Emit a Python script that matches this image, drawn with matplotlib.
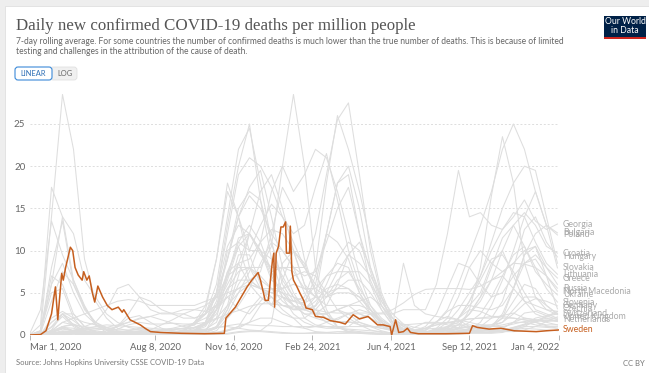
import matplotlib
matplotlib.use("Agg")
import matplotlib.pyplot as plt
import matplotlib.transforms as mtransforms
from matplotlib.patches import Rectangle, FancyBboxPatch
import pandas as pd

plt.rcParams["font.family"] = ["Lato", "DejaVu Sans"]

# ----------------------------------------------------------------------
# Data: 7-day rolling daily deaths per million
# grey countries sampled every 14 days from Mar 1, 2020
# ----------------------------------------------------------------------
dates = pd.date_range("2020-03-01", periods=49, freq="14D")

belgium = [0, 0.4, 14, 28.5, 22, 9, 4, 2, 0.8, 0.5,
           0.4, 0.5, 0.6, 0.7, 0.8, 1.2, 3, 9, 18, 14,
           8, 6.5, 5.5, 5, 4.5, 3.5, 2.5, 2.5, 3, 3.5,
           3.5, 3, 1.5, 0.7, 0.5, 0.3, 0.3, 0.5, 0.6, 0.8,
           1, 1.2, 1.2, 1.5, 3, 4.5, 4.5, 3.5, 2.5]
spain = [0, 1.2, 17.5, 14, 6.5, 3.5, 1.2, 0.3, 0.2, 0.2,
         0.3, 0.6, 1.2, 1.8, 2.5, 3, 2.8, 3.5, 7.5, 8.5,
         6, 4.5, 3.5, 6.5, 10, 8.5, 5, 2.5, 1.5, 1.5,
         1.5, 1.1, 0.8, 0.6, 0.4, 0.3, 0.6, 1.6, 2.2, 1.8,
         1, 0.7, 0.5, 0.4, 0.4, 0.6, 1, 1.6, 1.8]
italy = [0.1, 3, 13.5, 9.5, 6.5, 3.2, 1.5, 0.9, 0.5, 0.3,
         0.2, 0.1, 0.1, 0.1, 0.2, 0.3, 0.5, 2, 7, 11.5,
         12, 9.5, 8, 8, 7.5, 5.5, 5.5, 7, 7.5, 7.5,
         5.5, 3.5, 2, 1, 0.5, 0.3, 0.3, 0.6, 0.8, 0.9,
         0.9, 0.8, 0.7, 0.6, 0.8, 1.2, 1.5, 2.2, 2.8]
uk = [0, 0.5, 6, 14, 12, 6.5, 4.5, 2.5, 1.5, 0.9,
      0.6, 0.2, 0.2, 0.1, 0.2, 0.5, 1.2, 3, 5.5, 6.5,
      6.5, 7.5, 12, 17.5, 15, 9, 5, 2.5, 0.9, 0.4,
      0.2, 0.1, 0.1, 0.1, 0.2, 0.4, 0.8, 1.2, 1.4, 1.6,
      1.9, 2, 2, 2.3, 2.6, 2, 1.8, 1.6, 2.15]
france = [0, 0.3, 8, 13.5, 6, 3.3, 1.2, 0.6, 0.3, 0.2,
          0.2, 0.2, 0.2, 0.3, 0.6, 0.9, 1.3, 3, 7.5, 10.5,
          6.5, 5.5, 5.5, 5.5, 6, 5.5, 4.5, 4.5, 5.5, 5.5,
          4.5, 3, 1.8, 0.9, 0.5, 0.4, 0.8, 1.2, 1.5, 1.3,
          0.8, 0.6, 0.4, 0.5, 0.6, 1, 1.7, 2.2, 2.5]
netherlands = [0, 0.2, 6, 8.5, 5, 2.5, 1.3, 0.6, 0.3, 0.2,
               0.1, 0.1, 0.2, 0.2, 0.3, 0.6, 1.5, 3.5, 4.5, 3,
               2.5, 4, 5.5, 5, 3.5, 2.5, 2, 1.6, 1.6, 1.6,
               1.2, 1, 0.8, 0.5, 0.3, 0.1, 0.3, 0.7, 0.8, 0.6,
               0.5, 0.5, 0.6, 0.8, 1.5, 2.6, 2.8, 2.3, 1.8]
ireland = [0, 0.2, 4, 7.5, 6, 3, 1.5, 0.7, 0.3, 0.2,
           0.1, 0.1, 0.1, 0.2, 0.3, 0.5, 0.6, 0.9, 1, 0.8,
           0.6, 0.5, 1.5, 8.5, 10, 6, 2.5, 1.5, 0.9, 0.6,
           0.4, 0.3, 0.2, 0.2, 0.2, 0.2, 0.3, 0.5, 1, 1.2,
           1.2, 1, 1, 1, 1.3, 1.6, 1.5, 1.1, 0.8]
switzerland = [0, 0.5, 7, 6, 2.5, 1, 0.3, 0.1, 0.1, 0.1,
               0.1, 0.1, 0.1, 0.1, 0.1, 0.2, 0.4, 3, 10, 11,
               10, 10, 9, 7, 4.5, 2, 1.2, 1, 0.8, 0.7,
               0.6, 0.5, 0.4, 0.2, 0.1, 0.1, 0.1, 0.2, 0.4, 0.8,
               1, 0.7, 0.5, 0.5, 0.9, 1.3, 2, 2.3, 2.6]
czechia = [0, 0, 0.1, 0.2, 0.2, 0.1, 0.1, 0.1, 0, 0,
           0.1, 0.1, 0.1, 0.2, 0.5, 1.5, 3.5, 9, 17, 14,
           10, 13, 15.5, 14, 12, 13, 17.5, 21.5, 16, 10,
           6, 3, 1.2, 0.5, 0.3, 0.2, 0.1, 0.1, 0.1, 0.2,
           0.3, 0.6, 1, 2, 5.5, 9.5, 10.5, 7, 3.1]
hungary = [0, 0, 0.3, 1, 1.3, 0.8, 0.5, 0.3, 0.2, 0.1,
           0.1, 0.1, 0.1, 0.2, 0.5, 1.5, 2.5, 5, 9, 14,
           16.5, 15, 12, 10, 8, 8, 12, 19, 25.5, 27.5,
           19, 10, 4.5, 1.5, 0.6, 0.3, 0.2, 0.2, 0.2, 0.3,
           0.5, 1, 2, 4, 8, 12.5, 14, 11, 9.25]
slovakia = [0, 0, 0, 0.1, 0.1, 0.1, 0, 0, 0, 0,
            0, 0, 0.1, 0.1, 0.2, 0.5, 1.5, 3.5, 6, 8.5,
            9, 11, 17, 20, 17, 19, 22, 21, 17, 12,
            7, 3.5, 1.5, 0.5, 0.2, 0.1, 0.1, 0.1, 0.1, 0.3,
            0.7, 1.5, 3.5, 6.5, 10, 14, 17, 13, 7.95]
bulgaria = [0, 0, 0.1, 0.3, 0.5, 0.6, 0.6, 0.7, 1, 1.5,
            2, 2.2, 1.8, 1.4, 1, 1.2, 2.5, 6, 14, 22,
            24.5, 18, 11, 6.5, 4.5, 4, 6, 12, 18, 20,
            15, 8, 4, 2, 1, 0.6, 0.8, 1.5, 3, 6,
            9.5, 13, 17, 22, 25, 22, 17, 13, 12.1]
poland = [0, 0, 0.1, 0.3, 0.4, 0.4, 0.3, 0.3, 0.3, 0.2,
          0.2, 0.2, 0.3, 0.4, 0.4, 0.5, 1.5, 5, 10.5, 13,
          12, 10, 7.5, 8, 8, 7, 7.5, 11, 15, 17.5,
          12, 7.5, 3.5, 1.5, 0.6, 0.2, 0.1, 0.1, 0.1, 0.2,
          0.3, 0.5, 1, 2.5, 5.5, 9.5, 12, 13, 11.85]
croatia = [0, 0, 0.2, 0.5, 0.4, 0.2, 0.1, 0, 0.2, 0.5,
           0.8, 0.6, 0.5, 0.6, 0.8, 0.9, 1.5, 4, 9, 14,
           17.5, 19.5, 14, 8, 5, 3, 2.5, 3.5, 6, 9.5,
           11, 8, 4.5, 1.5, 0.5, 0.2, 0.2, 0.3, 0.6, 1.2,
           2.5, 4, 6.5, 10, 13, 14.5, 13, 10.5, 9.7]
slovenia = [0, 0.1, 1.5, 2.5, 1.2, 0.4, 0.2, 0.1, 0, 0.1,
            0.1, 0.1, 0.1, 0.1, 0.2, 0.3, 1.5, 5, 12, 19,
            21, 20, 17.5, 14, 11, 8, 5.5, 4.5, 5, 5,
            4.5, 3, 1.5, 0.5, 0.2, 0.1, 0.1, 0.1, 0.3, 0.8,
            1.5, 2.5, 4.5, 7, 9.5, 10.5, 8, 5.5, 3.9]
north_macedonia = [0, 0.1, 1, 2.5, 2.5, 1, 1.5, 3, 5.5, 6,
                   4.5, 3, 2.5, 2.5, 2.5, 2, 2.5, 5, 13, 20,
                   25, 16, 9, 5, 3.5, 3, 4.5, 12, 18, 19,
                   12, 6, 3, 1.2, 0.6, 0.5, 1, 2.5, 5.5, 8.5,
                   8, 6, 4.5, 5, 7, 8.5, 9, 7, 5.2]
bosnia = [0, 0.1, 0.4, 0.8, 0.5, 0.2, 0.1, 0.3, 1, 2.5,
          4.5, 4, 3, 2.5, 2, 2, 2.5, 4.5, 9, 15,
          17, 16, 11, 6, 4, 4.5, 8, 18, 26, 22,
          17, 11, 5, 2, 0.6, 0.3, 0.3, 0.8, 2, 4.5,
          8, 10, 8.5, 7.5, 8.5, 10, 10.5, 8, 6]
portugal = [0, 0, 2, 2.8, 2, 1.5, 1.2, 0.9, 0.6, 0.6,
            0.7, 0.6, 0.3, 0.2, 0.4, 0.8, 1.2, 2.5, 5.5, 7.5,
            8, 8, 10.5, 20, 28.5, 20, 8, 3, 1, 0.4,
            0.3, 0.2, 0.1, 0.2, 0.4, 0.9, 1.5, 1.5, 1.2, 0.8,
            0.6, 0.4, 0.3, 0.5, 0.8, 1.2, 1.6, 1.8, 1.7]
lithuania = [0, 0, 0.2, 0.4, 0.3, 0.2, 0.1, 0.1, 0.1, 0,
             0, 0, 0, 0, 0.1, 0.1, 0.3, 1, 3, 7,
             12, 17, 19, 15, 10, 6, 4.5, 3.5, 3.5, 3.5,
             4, 4.5, 3.5, 2, 1, 0.5, 0.4, 0.6, 1.5, 3,
             5, 7, 10, 12.5, 14.5, 14, 11, 8.5, 7.2]
greece = [0, 0, 0.2, 0.3, 0.2, 0.1, 0.1, 0, 0, 0,
          0, 0.1, 0.2, 0.4, 0.5, 0.6, 0.7, 1.5, 5, 9.5,
          9.5, 6, 3.5, 2.5, 2, 2, 3, 4.5, 6.5, 7.5,
          7.5, 6, 4, 2, 1.2, 0.6, 0.5, 1.5, 2.8, 3.5,
          3.5, 3.2, 3, 3.5, 5.5, 8.5, 9.5, 8, 6.75]
russia = [0, 0, 0, 0.1, 0.5, 0.8, 1, 1.2, 1.1, 1,
          0.9, 0.8, 0.7, 0.7, 0.7, 0.9, 1.3, 1.9, 2.5, 2.9,
          3.4, 3.7, 3.7, 3.5, 3.4, 3.3, 3, 2.7, 2.6, 2.6,
          2.6, 2.6, 2.6, 3, 3.8, 4.8, 5.4, 5.5, 5.5, 5.5,
          5.4, 5.8, 6.5, 7.5, 8.5, 8.4, 8, 7, 5.55]
ukraine = [0, 0, 0, 0.1, 0.2, 0.3, 0.3, 0.3, 0.4, 0.4,
           0.5, 0.5, 0.6, 0.8, 1.1, 1.4, 2, 3, 4.5, 5.5,
           6.5, 5.5, 4.5, 3.5, 3.2, 3, 3.4, 5, 7.5, 9.5,
           8.5, 7, 4.5, 2.5, 1.3, 0.9, 0.7, 0.8, 1, 1.5,
           2.5, 4.5, 8, 11.5, 13, 10.5, 7.5, 6, 4.75]
georgia = [0, 0, 0, 0, 0.1, 0.1, 0, 0, 0, 0,
           0, 0, 0, 0.1, 0.5, 1.5, 2.5, 3.5, 7, 11,
           13, 11, 7.5, 4.5, 2.5, 1.5, 1, 0.8, 0.8, 1,
           2, 2.5, 2.5, 2.5, 3, 3, 3, 6, 12, 19.5,
           14, 14.5, 13, 12.5, 14, 16, 13.5, 12.5, 13.15]
germany = [0, 0, 0.6, 2.5, 1.7, 0.7, 0.4, 0.2, 0.1, 0.1,
           0.1, 0.1, 0.1, 0.1, 0.1, 0.1, 0.2, 0.5, 2, 3.5,
           5.5, 8.5, 11, 10, 8, 5, 3, 2, 1.8, 2.5,
           3, 2.6, 1.7, 1, 0.5, 0.3, 0.2, 0.2, 0.3, 0.5,
           0.7, 0.8, 1, 1.5, 2.5, 3.7, 4.3, 4, 3.45]
austria = [0, 0, 0.9, 2.2, 1, 0.3, 0.1, 0.1, 0.1, 0.1,
           0.1, 0.1, 0.1, 0.1, 0.2, 0.4, 0.5, 1, 3.5, 8.5,
           12, 10, 6.5, 5.5, 3.5, 2.5, 2.5, 2.5, 3, 3.5,
           2.5, 2, 1.2, 0.6, 0.3, 0.2, 0.2, 0.2, 0.2, 0.4,
           0.8, 1, 1.2, 2, 4, 6, 5.5, 3.5, 2.5]
romania = [0, 0, 0.3, 1, 1.2, 1, 0.8, 0.9, 1.2, 1.5,
           1.9, 2.2, 2.6, 2.6, 3, 3, 3.5, 4.5, 7, 8,
           8, 5.5, 4.5, 3.5, 3, 3, 3.5, 6, 9, 11,
           10, 6.5, 3.5, 1.5, 0.8, 0.4, 0.3, 0.2, 0.3, 0.8,
           3, 8, 16.5, 23.5, 18, 8.5, 4.5, 3, 2.4]
latvia = [0, 0, 0, 0.1, 0.2, 0.1, 0.1, 0, 0, 0,
          0, 0, 0, 0, 0, 0, 0.3, 0.8, 2.5, 5,
          7.5, 11, 12.5, 12, 10, 8, 6, 5, 5.5, 6.5,
          6.5, 5, 3, 1.2, 0.5, 0.2, 0.2, 0.3, 0.8, 2,
          4, 7, 11, 15, 18, 20, 19.5, 14, 8.5]
serbia = [0, 0, 0.3, 0.8, 0.5, 0.3, 0.2, 0.5, 1, 2,
          2.3, 1.5, 0.8, 0.5, 0.3, 0.3, 0.3, 0.8, 3, 6,
          8, 7, 5.5, 4, 3, 3, 4, 5.5, 6, 5.5,
          4, 2.5, 1.5, 0.8, 0.3, 0.2, 0.2, 0.3, 0.6, 1.2,
          2.5, 4.5, 6.5, 7, 5.5, 4, 3.5, 3, 2.8]
denmark = [0, 0, 1.5, 2.5, 1.2, 0.5, 0.3, 0.1, 0.1, 0,
           0, 0, 0, 0.1, 0.1, 0.2, 0.2, 0.3, 0.5, 0.8,
           1.5, 3.5, 4.5, 3, 2, 0.8, 0.4, 0.3, 0.2, 0.3,
           0.3, 0.2, 0.2, 0.1, 0.1, 0, 0.1, 0.2, 0.3, 0.3,
           0.3, 0.3, 0.3, 0.6, 0.9, 1.2, 1.6, 2, 2]
norway = [0, 0, 0.3, 0.7, 0.5, 0.2, 0.1, 0.1, 0, 0,
          0, 0, 0, 0, 0, 0, 0.1, 0.1, 0.2, 0.4,
          0.5, 0.5, 0.4, 0.3, 0.2, 0.2, 0.2, 0.2, 0.2, 0.2,
          0.2, 0.2, 0.1, 0.1, 0.1, 0, 0, 0.1, 0.1, 0.1,
          0.2, 0.2, 0.2, 0.3, 0.7, 1, 1, 0.9, 0.8]
finland = [0, 0, 0.2, 0.9, 0.8, 0.4, 0.2, 0.1, 0, 0,
           0, 0, 0, 0, 0, 0, 0, 0.1, 0.1, 0.3,
           0.4, 0.4, 0.3, 0.2, 0.2, 0.2, 0.3, 0.3, 0.4, 0.4,
           0.3, 0.2, 0.1, 0.1, 0.1, 0, 0, 0.1, 0.2, 0.4,
           0.5, 0.4, 0.3, 0.4, 0.6, 0.8, 0.7, 0.6, 0.5]
estonia = [0, 0, 0.5, 1.5, 1.2, 0.5, 0.2, 0, 0, 0,
           0, 0, 0, 0, 0, 0, 0.1, 0.2, 0.5, 1,
           3, 4.5, 3.5, 4.5, 4, 3.5, 7, 12, 11, 9,
           5, 2.5, 1, 0.5, 0.2, 0.1, 0.2, 0.3, 0.8, 2,
           3.5, 5, 8.5, 10, 7, 4, 2.5, 2, 1.6]
belarus = [0, 0, 0, 0.2, 0.6, 0.8, 0.8, 0.6, 0.4, 0.3,
           0.3, 0.3, 0.3, 0.3, 0.4, 0.5, 0.6, 0.9, 1.1, 1.3,
           1.2, 1.1, 1.1, 1, 1, 1, 1, 1, 1, 1,
           1, 1, 1, 1.1, 1.2, 1.3, 1.4, 1.4, 1.5, 1.7,
           1.9, 2, 2.2, 2.2, 2, 1.8, 1.7, 1.7, 1.6]
albania = [0, 0, 0.2, 0.3, 0.2, 0.1, 0.1, 0.3, 0.7, 1.2,
           1.5, 1.3, 1.3, 1.4, 1.3, 1.3, 1.5, 2, 3.5, 5,
           6, 5.5, 5, 5.5, 7, 7.5, 7, 5, 3, 2,
           1.2, 0.6, 0.3, 0.1, 0, 0, 0, 0.2, 0.8, 2,
           3, 2.8, 2.2, 2, 2, 1.8, 1.5, 1.2, 1.2]
moldova = [0, 0, 0.5, 1.5, 2, 2.5, 3, 3.5, 4, 4.2,
           4, 3.5, 3.5, 3.5, 3.5, 3.5, 4, 4.5, 5, 5.5,
           6, 5.5, 5, 4.5, 4, 3.8, 4.5, 7, 8.5, 8,
           5, 3, 1.5, 0.8, 0.4, 0.4, 0.3, 0.4, 1, 2,
           4, 6.5, 9, 9.5, 7.5, 5, 3, 2.5, 2]
luxembourg = [0, 0.5, 5, 5.5, 2, 0.5, 0.2, 0, 0, 0,
              0.3, 0.5, 0.5, 0.5, 0.3, 0.5, 1, 3, 6.5, 10.5,
              12, 10, 7, 4.5, 3.5, 3, 2.5, 2.5, 3, 2.5,
              1.5, 1, 0.5, 0.2, 0.1, 0.1, 0.1, 0.3, 0.5, 0.6,
              0.6, 0.5, 0.5, 0.8, 1.5, 1.5, 1.2, 1, 1]
cyprus = [0, 0, 0.5, 1, 0.5, 0.2, 0, 0, 0, 0,
          0, 0, 0, 0, 0, 0.1, 0.2, 0.3, 0.6, 1,
          1.5, 2, 2, 1.5, 1, 0.8, 1, 1.5, 2, 2.5,
          2.5, 2, 1.2, 1, 8.5, 3.5, 2.5, 2.2, 2, 1.8,
          1.5, 1.2, 1, 1.2, 1.5, 2, 1.8, 1.5, 1.2]

# Sweden, highlighted (irregular dates to keep the reporting jumps)
sweden_dates = ["2020-03-01", "2020-03-15", "2020-03-22", "2020-03-29", "2020-04-03",
                "2020-04-06", "2020-04-11", "2020-04-13", "2020-04-16", "2020-04-22",
                "2020-04-25", "2020-04-28", "2020-05-02", "2020-05-07", "2020-05-09",
                "2020-05-13", "2020-05-16", "2020-05-20", "2020-05-23", "2020-05-27",
                "2020-06-02", "2020-06-08", "2020-06-14", "2020-06-22", "2020-06-27",
                "2020-06-29", "2020-07-07", "2020-07-20", "2020-07-26", "2020-08-02",
                "2020-08-15", "2020-09-10", "2020-10-10", "2020-11-04", "2020-11-06",
                "2020-11-18", "2020-12-03", "2020-12-09", "2020-12-17", "2020-12-20",
                "2020-12-26", "2020-12-30", "2021-01-04", "2021-01-06", "2021-01-07",
                "2021-01-09", "2021-01-12", "2021-01-15", "2021-01-18", "2021-01-21",
                "2021-01-22", "2021-01-26", "2021-01-27", "2021-01-29", "2021-01-31",
                "2021-02-04", "2021-02-08", "2021-02-13", "2021-02-16", "2021-02-24",
                "2021-02-28", "2021-03-10", "2021-03-19", "2021-03-31", "2021-04-07",
                "2021-04-17", "2021-04-25", "2021-05-06", "2021-05-18", "2021-05-25",
                "2021-06-03", "2021-06-05", "2021-06-10", "2021-06-14", "2021-06-20",
                "2021-06-25", "2021-06-29", "2021-07-09", "2021-08-13", "2021-09-12",
                "2021-09-16", "2021-09-22", "2021-10-07", "2021-10-22", "2021-11-08",
                "2021-12-06", "2021-12-19", "2022-01-04"]
sweden = [0, 0.05, 0.5, 2.5, 5.7, 1.8, 7.3, 6.5, 8, 10.4,
          10, 8, 7.1, 6.5, 7.5, 6.5, 7, 5, 3.9, 5.8,
          4.5, 3.5, 3, 3.3, 2.7, 3, 1.8, 1.2, 0.8, 0.4,
          0.3, 0.2, 0.15, 0.2, 2, 3.3, 5.7, 6.5, 7.4, 6.5,
          4.1, 4.1, 8.6, 9.7, 3.3, 9.7, 10.5, 12.8, 12.8, 13.4,
          9.7, 9.7, 12.9, 7.5, 6.5, 5.8, 5, 4.1, 3.2, 3,
          2.2, 2.1, 1.7, 1.5, 1.3, 2.4, 1.9, 2.2, 1.2, 1.2,
          1.0, 0, 1.8, 0.3, 0.4, 0.8, 0.3, 0.15, 0.15, 0.2,
          1.1, 0.9, 0.7, 0.8, 0.5, 0.4, 0.5, 0.6]

grey_series = [belgium, spain, italy, uk, france, netherlands, ireland, switzerland,
               czechia, hungary, slovakia, bulgaria, poland, croatia, slovenia,
               north_macedonia, bosnia, portugal, lithuania, greece, russia, ukraine,
               georgia, germany, austria, romania, latvia, serbia, denmark, norway,
               finland, estonia, belarus, albania, moldova, luxembourg, cyprus]

labelled = [("Georgia", georgia), ("Bulgaria", bulgaria), ("Poland", poland),
            ("Croatia", croatia), ("Hungary", hungary), ("Slovakia", slovakia),
            ("Lithuania", lithuania), ("Greece", greece), ("Russia", russia),
            ("North Macedonia", north_macedonia), ("Ukraine", ukraine),
            ("Slovenia", slovenia), ("Germany", germany), ("Czechia", czechia),
            ("Switzerland", switzerland), ("United Kingdom", uk),
            ("Netherlands", netherlands)]

tick_dates = ["2020-03-01", "2020-08-08", "2020-11-16", "2021-02-24",
              "2021-06-04", "2021-09-12", "2022-01-04"]
tick_labels = ["Mar 1, 2020", "Aug 8, 2020", "Nov 16, 2020", "Feb 24, 2021",
               "Jun 4, 2021", "Sep 12, 2021", "Jan 4, 2022"]

GREY = "#dedede"
ORANGE = "#c65f1f"

# ----------------------------------------------------------------------
# Figure + card background (pixel coordinates on an overlay axes)
# ----------------------------------------------------------------------
W, H = 649, 373
fig = plt.figure(figsize=(W / 100, H / 100), dpi=100)
fig.patch.set_facecolor("#eeeeee")

bg = fig.add_axes([0, 0, 1, 1])
bg.set_xlim(0, W)
bg.set_ylim(H, 0)
bg.axis("off")
bg.add_patch(Rectangle((5, 6), W - 5, H - 6, facecolor="white", edgecolor="#e0e0e0", lw=0.6))

bg.text(16, 30, "Daily new confirmed COVID-19 deaths per million people",
        family="Liberation Serif", fontsize=12.2, color="#555555", va="baseline")
bg.text(16, 43.5, "7-day rolling average. For some countries the number of confirmed deaths is "
        "much lower than the true number of deaths. This is because of limited",
        fontsize=6.15, color="#666666", va="baseline")
bg.text(16, 54.5, "testing and challenges in the attribution of the cause of death.",
        fontsize=6.15, color="#666666", va="baseline")

# LINEAR / LOG toggle
bg.add_patch(FancyBboxPatch((50, 67), 27, 13, boxstyle="round,pad=0,rounding_size=3",
                            facecolor="#f0f0f0", edgecolor="#e0e0e0", lw=0.6))
bg.add_patch(FancyBboxPatch((15, 67), 37, 13, boxstyle="round,pad=0,rounding_size=3",
                            facecolor="white", edgecolor="#3b8ad9", lw=0.8))
bg.text(33.5, 73.8, "LINEAR", fontsize=5.4, color="#2e6fb5", ha="center", va="center")
bg.text(64.5, 73.8, "LOG", fontsize=5.4, color="#666666", ha="center", va="center")

# OWID logo
bg.add_patch(Rectangle((604, 16), 42, 23, facecolor="#002147", edgecolor="none"))
bg.add_patch(Rectangle((604, 36.8), 42, 2.4, facecolor="#ce261e", edgecolor="none"))
bg.text(625, 26.3, "Our World\nin Data", fontsize=6.2, color="white",
        ha="center", va="center", linespacing=0.95)

bg.text(16, 363, "Source: Johns Hopkins University CSSE COVID-19 Data",
        fontsize=5.5, color="#777777", va="center")
bg.text(645, 363, "CC BY", fontsize=5.5, color="#777777", va="center", ha="right")

# ----------------------------------------------------------------------
# Chart
# ----------------------------------------------------------------------
ax = fig.add_axes([29.5 / W, 38 / H, 529.5 / W, 241.4 / H])
ax.patch.set_alpha(0)

for values in grey_series:
    ax.plot(dates, values, color=GREY, lw=0.75, solid_joinstyle="round", zorder=2)
ax.plot(pd.to_datetime(sweden_dates), sweden, color=ORANGE, lw=1.1, zorder=3)

ax.set_xlim(pd.Timestamp("2020-03-01"), pd.Timestamp("2022-01-04"))
ax.set_ylim(0, 28.6)

for s in ax.spines.values():
    s.set_visible(False)

ax.set_yticks([0, 5, 10, 15, 20, 25])
ax.yaxis.grid(True, color="#dddddd", linestyle=(0, (2, 2)), linewidth=0.7)
ax.set_axisbelow(True)
ax.tick_params(axis="y", length=0, pad=3, labelsize=7, labelcolor="#666666")

ax.set_xticks(pd.to_datetime(tick_dates))
ax.set_xticklabels(tick_labels)
ax.tick_params(axis="x", length=3.5, width=0.6, color="#aaaaaa", pad=2,
               labelsize=6.8, labelcolor="#666666")
xt = ax.get_xticklabels()
xt[0].set_ha("left")
xt[-1].set_ha("right")

# end-of-line labels (they overlap in the original as well)
trans = mtransforms.blended_transform_factory(ax.transAxes, ax.transData)
for name, values in labelled:
    ax.text(1.0075, values[-1], name, transform=trans, fontsize=6.3,
            color="#aaaaaa", va="center", ha="left", clip_on=False)
ax.text(1.0075, sweden[-1], "Sweden", transform=trans, fontsize=6.3,
        color=ORANGE, va="center", ha="left", clip_on=False)

fig.savefig("out.png", dpi=100, facecolor=fig.get_facecolor())
